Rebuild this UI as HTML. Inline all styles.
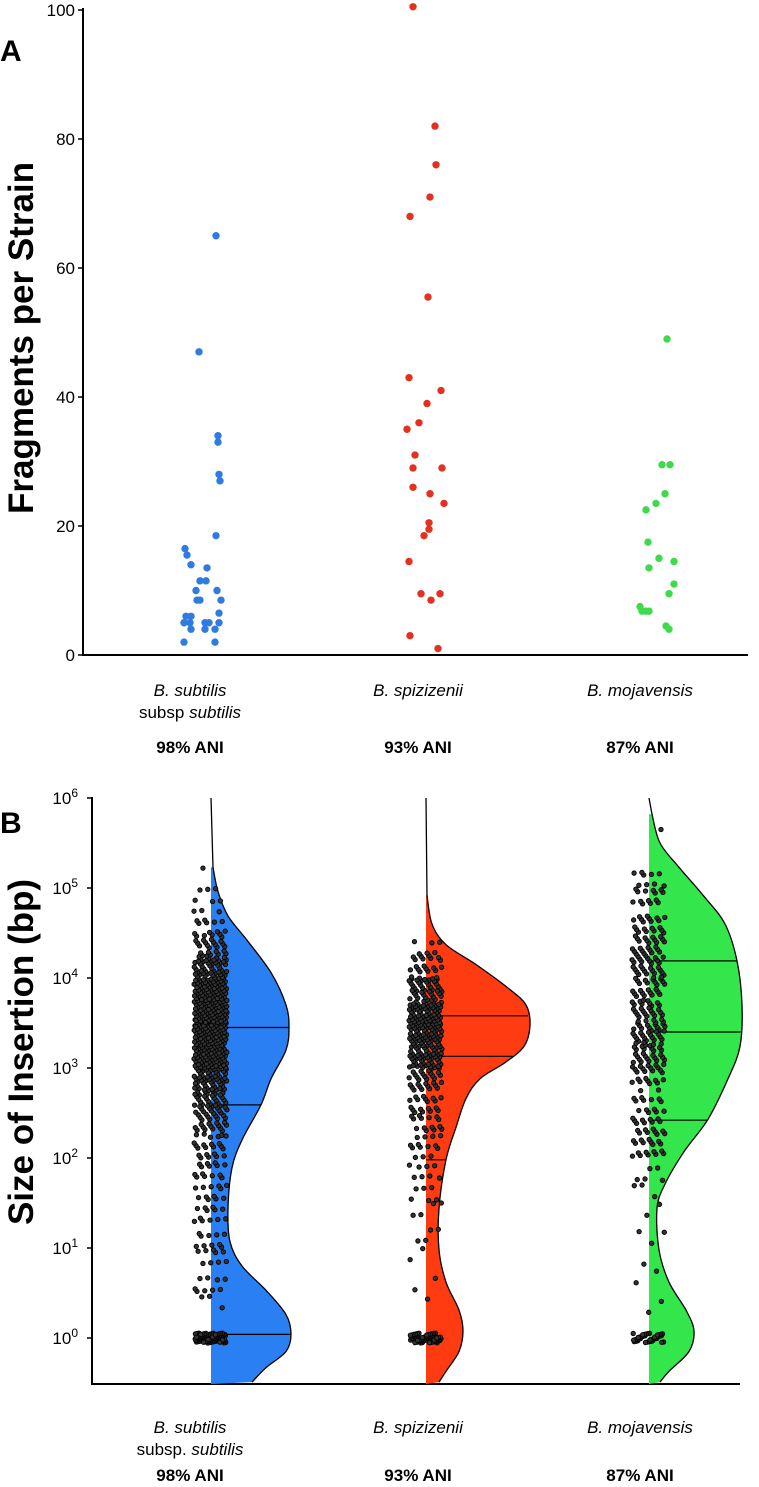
<!DOCTYPE html>
<html><head><meta charset="utf-8"><style>
html,body{margin:0;padding:0;background:#fff;}
svg{display:block;font-family:"Liberation Sans",Arial,sans-serif;}
</style></head><body>
<svg id="chart" width="759" height="1487" viewBox="0 0 759 1487" xmlns="http://www.w3.org/2000/svg">
<text x="0" y="61" font-size="30" font-weight="bold">A</text>
<text x="0" y="833" font-size="30" font-weight="bold">B</text>
<text transform="translate(33,338) rotate(-90)" text-anchor="middle" font-size="35" font-weight="bold">Fragments per Strain</text>
<text transform="translate(33,1052) rotate(-90)" text-anchor="middle" font-size="35" font-weight="bold">Size of Insertion (bp)</text>
<g id="ga"></g>
<g id="gb"></g>
<g id="labels"></g>
</svg>
<script>
const NS="http://www.w3.org/2000/svg";
// ---- Panel A data ----
const catsA=["B. subtilis","B. spizizenii","B. mojavensis"];
const ticksA=[0,20,40,60,80,100];
const blueVals=[65,47,34,33,28,27,18.5,16.5,15.5,14,13.5,11.5,11.5,10,10,8.5,8.5,8.5,6,6,6.5,5,5,5,5,5,4,4,4,2,2];
const blueX=[216,199,218,218,219,220,216,185,187,191,207,200,206,196,217,197,200,221,186,191,219,184,190,205,209,219,191,205,215,184,215];
const redVals=[100.5,82,76,71,68,55.5,43,41,39,36,35,31,29,29,26,25,23.5,20.5,19.5,18.5,14.5,9.5,9.5,8.5,3,1];
const redX=[413,435,436,430,410,428,409,441,427,419,407,415,413,442,413,430,444,429,429,424,409,421,440,431,410,438];
const greenVals=[49,29.5,29.5,25,23.5,22.5,17.5,15,14.5,13.5,11,9.5,7.5,6.8,6.8,6.8,4.5,4];
const greenX=[667,662,670,665,656,646,648,659,674,649,674,669,640,642,646,649,666,669];
// ---- Panel B data ----
const ticksB=[0,1,2,3,4,5,6];
const blueProfLog=[5.23,4.96,4.69,4.42,4.06,3.70,3.45,3.20,2.88,2.59,2.20,1.89,1.44,1.07,0.80,0.53,0.26,0.04,-0.15,-0.33,-0.49];
const blueProfW=[2,7,17,36,60,75,78,75,60,50,31,21,17,19,31,55,75,80,75,55,41];
const redProfLog=[4.92,4.60,4.37,4.15,3.88,3.70,3.47,3.24,3.06,2.88,2.66,2.34,1.98,1.44,0.98,0.62,0.31,0.08,-0.15,-0.37,-0.49];
const redProfW=[1,6,20,50,83,100,104,98,79,54,40,30,20,13,13,20,33,37,33,20,13];
const greenProfLog=[5.82,5.50,5.23,4.92,4.60,4.19,3.70,3.24,2.88,2.43,2.07,1.71,1.44,0.98,0.62,0.31,0.08,-0.15,-0.37,-0.49];
const greenProfW=[3,11,30,54,76,88,93,91,79,59,35,16,8,10,20,37,45,40,20,11];
const blueQuant=[3.45,2.59,0.04];
const redQuant=[3.58,3.13,1.98];
const greenQuant=[4.19,3.40,2.42];
const binStarts=[0.25,0.5,0.75,1,1.25,1.5,1.75,2,2.25,2.5,2.75,3,3.25,3.5,3.75,4,4.25,4.5,4.75,5];
const blueCounts=[3,9,9,10,12,12,14,20,28,40,55,75,85,85,70,50,28,12,6,1];
const redCounts=[1,2,2,4,4,6,8,14,14,18,30,55,60,60,42,20,6,0,0,0];
const greenCounts=[2,2,1,3,2,3,5,18,18,14,18,30,34,30,24,30,24,20,14,9];
const oneCounts=[90,60,40];

function el(tag,attrs,parent){const e=document.createElementNS(NS,tag);for(const k in attrs)e.setAttribute(k,attrs[k]);parent.appendChild(e);return e;}
const ga=document.getElementById('ga'),gb=document.getElementById('gb'),gl=document.getElementById('labels');
// Panel A axes
const yA=v=>655-v*6.45;
let l=el('line',{x1:83,y1:8,x2:83,y2:656,stroke:'#000','stroke-width':2},ga);

l=el('line',{x1:82,y1:655,x2:748,y2:655,stroke:'#000','stroke-width':2},ga);

ticksA.forEach(t=>{const tk=el('line',{x1:78,x2:83,y1:yA(t),y2:yA(t),stroke:'#000','stroke-width':1.5},ga);

const tx=el('text',{x:75,y:yA(t)+6,'text-anchor':'end','font-size':17},ga);tx.textContent=t;
});
[[blueVals,blueX,'#2f7be0','blue'],[redVals,redX,'#e4311f','red'],[greenVals,greenX,'#3fd94c','green']].forEach(([vs,xs,c,n])=>{
vs.forEach((v,i)=>{const p=el('circle',{cx:xs[i],cy:yA(v),r:3.7,fill:c},ga);
});});
// Panel B
const yB=lg=>1338-90*lg;
l=el('line',{x1:92,y1:797,x2:92,y2:1385,stroke:'#000','stroke-width':2},gb);

l=el('line',{x1:91,y1:1384,x2:740,y2:1384,stroke:'#000','stroke-width':2},gb);

ticksB.forEach(t=>{const tk=el('line',{x1:87,x2:92,y1:yB(t),y2:yB(t),stroke:'#000','stroke-width':1.5},gb);

const tx=el('text',{x:78,y:yB(t)+6,'text-anchor':'end','font-size':17},gb);

tx.textContent='10';const s=el('tspan',{dy:-7,'font-size':12},tx);s.textContent=t;});
function smooth(pts){let d='';for(let i=0;i<pts.length-1;i++){const p0=pts[i-1]||pts[i],p1=pts[i],p2=pts[i+1],p3=pts[i+2]||p2;
const c1=[p1[0]+(p2[0]-p0[0])/6,p1[1]+(p2[1]-p0[1])/6],c2=[p2[0]-(p3[0]-p1[0])/6,p2[1]-(p3[1]-p1[1])/6];
d+=` C${c1[0]},${c1[1]} ${c2[0]},${c2[1]} ${p2[0]},${p2[1]}`;}return d;}
const violins=[[blueProfLog,blueProfW,blueQuant,blueCounts,211,'#2a7ff2','blue'],[redProfLog,redProfW,redQuant,redCounts,426,'#ff3b12','red'],[greenProfLog,greenProfW,greenQuant,greenCounts,649,'#33e64b','green']];
violins.forEach(([lg,w,q,cnt,edge,col,n],vi)=>{
const pts=lg.map((v,i)=>[edge+w[i],yB(v)]);
const curve=`M${edge},${yB(lg[0])} L${pts[0][0]},${pts[0][1]}`+smooth(pts);
const f=el('path',{d:curve+` L${edge},1384 Z`,fill:col},gb);

const s=el('path',{d:`M${edge},798 `+curve.slice(curve.indexOf('L')),fill:'none',stroke:'#000','stroke-width':1.3},gb);

q.forEach(qv=>{let ww=0;for(let i=0;i<lg.length-1;i++){if((lg[i]-qv)*(lg[i+1]-qv)<=0){const t=(qv-lg[i])/(lg[i+1]-lg[i]);ww=w[i]+t*(w[i+1]-w[i]);break;}}
const ql=el('line',{x1:edge,x2:edge+ww,y1:yB(qv),y2:yB(qv),stroke:'#000','stroke-width':1.2},gb);
});
let k=vi*7+1;
const addDot=(x,y)=>{const c=el('circle',{cx:x,cy:y,r:2.2,fill:'#333',stroke:'#000','stroke-width':0.9},gb);
};
cnt.forEach((c,bi)=>{for(let j=0;j<c;j++){k++;const fx=(k*0.618034)%1,fy=(k*0.414214+j*0.1)%1;
addDot(edge-17+fx*33,yB(binStarts[bi]+fy*0.25));}});
for(let j=0;j<oneCounts[vi];j++){k++;const fx=(k*0.618034)%1,fy=(k*0.7548)%1;addDot(edge-16+fx*31,yB(0)-5+fy*10);}
if(n==='green'){addDot(661,yB(5.65));}
});
// category labels
const cx=[190,418,640];
[[696,718,753,'subsp '],[1433,1455,1481,'subsp. ']].forEach(([y1,y2,y3,sp],pi)=>{
catsA.forEach((c,i)=>{const t=el('text',{x:cx[i],y:y1,'text-anchor':'middle','font-size':17,'font-style':'italic'},gl);t.textContent=c;

if(i===0){const t2=el('text',{x:cx[i],y:y2,'text-anchor':'middle','font-size':17},gl);

t2.textContent=sp;const it=el('tspan',{'font-style':'italic'},t2);it.textContent='subtilis';}
const a=el('text',{x:cx[i],y:y3,'text-anchor':'middle','font-size':17,'font-weight':'bold'},gl);
a.textContent=["98% ANI","93% ANI","87% ANI"][i];
});});
</script>
</body></html>
